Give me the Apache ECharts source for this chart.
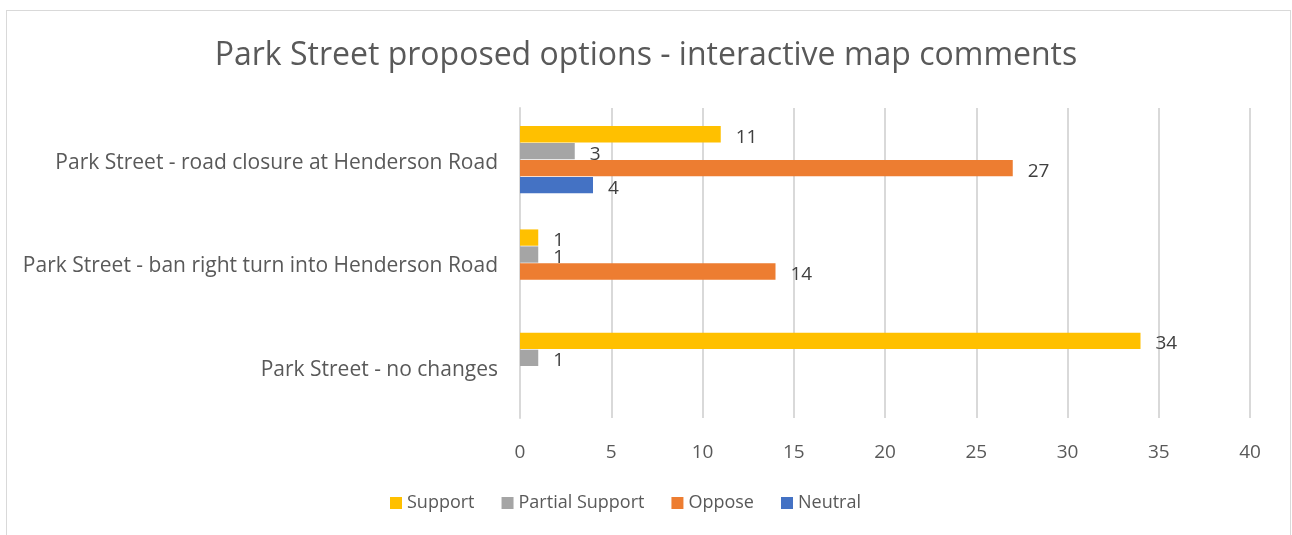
<!DOCTYPE html>
<html>
<head>
<meta charset="utf-8">
<script src="https://cdn.jsdelivr.net/npm/echarts@6/dist/echarts.min.js"></script>
<style>
  html, body { margin: 0; padding: 0; background: #fff; }
  #chart { width: 1292px; height: 535px; }
  .frame { position: absolute; left: 6px; top: 10px; width: 1285px; height: 540px; border: 1px solid #D9D9D9; box-sizing: border-box; pointer-events: none; }
</style>
</head>
<body>
<div id="chart"></div>
<div class="frame"></div>
<script>
const categories = [
  'Park Street - road closure at Henderson Road',
  'Park Street - ban right turn into Henderson Road',
  'Park Street - no changes',
];
const support = [11, 1, 34];
const partialSupport = [3, 1, 1];
const oppose = [27, 14, null];
const neutral = [4, null, null];
const xTicks = [0, 40, 5];

const font = '"Open Sans", sans-serif';

const chart = echarts.init(document.getElementById('chart'));

function barSeries(name, data, color) {
  return {
    name: name,
    type: 'bar',
    data: data,
    barGap: '4%',
    barCategoryGap: '35%',
    itemStyle: { color: color },
    label: {
      show: true,
      position: 'right',
      distance: 15,
      offset: [0, 3],
      color: '#404040',
      fontSize: 19,
      fontFamily: font,
    },
  };
}

const option = {
  animation: false,
  textStyle: { fontFamily: font },
  title: {
    text: 'Park Street proposed options - interactive map comments',
    left: 'center',
    top: 35,
    textStyle: {
      fontSize: 32,
      fontWeight: 'normal',
      color: '#595959',
      fontFamily: font,
    },
  },
  legend: {
    bottom: 18,
    left: 385,
    itemWidth: 12,
    itemHeight: 12,
    itemGap: 27,
    icon: 'rect',
    data: ['Support', 'Partial Support', 'Oppose', 'Neutral'],
    textStyle: { fontSize: 18, color: '#595959', fontFamily: font },
  },
  grid: {
    left: 520,
    right: 42,
    top: 108,
    bottom: 117,
    containLabel: false,
  },
  xAxis: {
    type: 'value',
    min: xTicks[0],
    max: xTicks[1],
    interval: xTicks[2],
    axisLine: { show: false },
    axisTick: { show: false },
    splitLine: { lineStyle: { color: '#D9D9D9', width: 2 } },
    axisLabel: { color: '#595959', fontSize: 19, margin: 25, fontFamily: font },
  },
  yAxis: {
    type: 'category',
    inverse: true,
    data: categories,
    axisLine: { show: true, lineStyle: { color: '#D9D9D9', width: 2 } },
    axisTick: { show: false },
    axisLabel: {
      margin: 22,
      formatter: '{c|{value}}',
      rich: {
        c: {
          color: '#595959',
          fontSize: 21,
          fontFamily: font,
          padding: [7, 0, 0, 0],
        },
      },
    },
  },
  series: [
    barSeries('Support', support, '#FFC000'),
    barSeries('Partial Support', partialSupport, '#A5A5A5'),
    barSeries('Oppose', oppose, '#ED7D31'),
    barSeries('Neutral', neutral, '#4472C4'),
  ],
};

chart.setOption(option);
window.addEventListener('resize', () => {
  chart.resize();
});
</script>
</body>
</html>
